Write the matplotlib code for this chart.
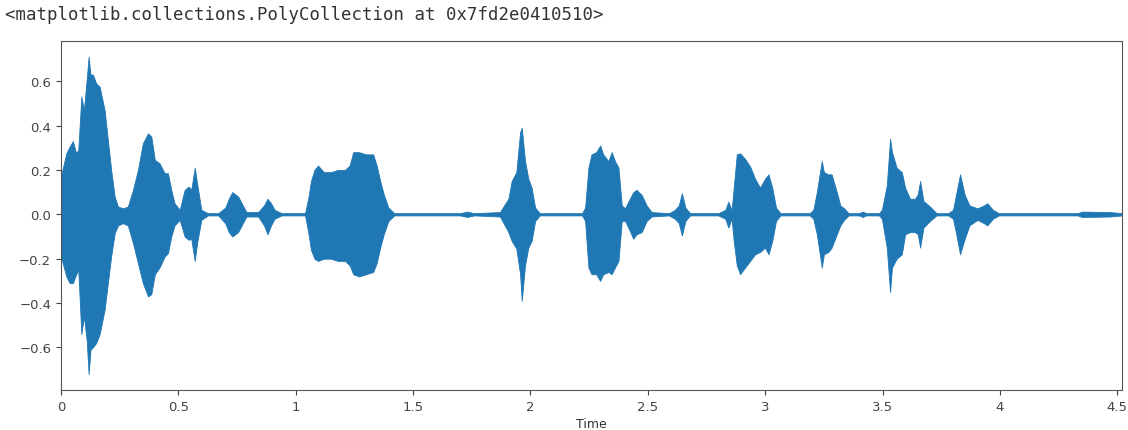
import matplotlib
matplotlib.use('Agg')
import matplotlib.pyplot as plt

# envelope of the waveform: time (s), top and bottom
times = [0.000, 0.023, 0.037, 0.051, 0.065, 0.074, 0.087, 0.098, 0.110, 0.118,
         0.126, 0.136, 0.150, 0.165, 0.186, 0.200, 0.214, 0.229, 0.243, 0.264,
         0.285, 0.307, 0.328, 0.349, 0.371, 0.385, 0.400, 0.420, 0.442, 0.456,
         0.470, 0.484, 0.506, 0.527, 0.544, 0.555, 0.570, 0.580, 0.598, 0.626,
         0.670, 0.700, 0.715, 0.730, 0.755, 0.770, 0.790, 0.840, 0.865, 0.880,
         0.895, 0.910, 0.940,
         1.040, 1.055, 1.065, 1.080, 1.095, 1.120, 1.150, 1.180, 1.210, 1.230,
         1.245, 1.270, 1.300, 1.330, 1.345, 1.360, 1.375, 1.395, 1.420,
         1.700, 1.730, 1.760,
         1.870, 1.906, 1.920, 1.940, 1.956, 1.963, 1.977, 1.991, 2.005, 2.020,
         2.040,
         2.220, 2.233, 2.247, 2.260, 2.280, 2.297, 2.310, 2.332, 2.346, 2.360,
         2.375, 2.389, 2.403, 2.417, 2.438, 2.452, 2.474, 2.495, 2.516,
         2.590, 2.615, 2.632, 2.645, 2.660, 2.680,
         2.800, 2.830, 2.843, 2.857, 2.866, 2.879, 2.893, 2.914, 2.936, 2.957,
         2.978, 2.999, 3.014, 3.030, 3.046, 3.065,
         3.190, 3.205, 3.220, 3.241, 3.250, 3.269, 3.283, 3.305, 3.320, 3.336,
         3.355, 3.400, 3.415, 3.430,
         3.485, 3.497, 3.518, 3.532, 3.540, 3.560, 3.582, 3.596, 3.617, 3.638,
         3.650, 3.660, 3.674, 3.702, 3.730,
         3.780, 3.800, 3.814, 3.830, 3.850, 3.870, 3.904, 3.932, 3.946, 3.970,
         3.995,
         4.330, 4.350, 4.470, 4.520]
upper = [0.17, 0.275, 0.305, 0.33, 0.275, 0.29, 0.53, 0.47, 0.61, 0.71,
         0.63, 0.63, 0.59, 0.575, 0.47, 0.335, 0.20, 0.08, 0.035, 0.027,
         0.035, 0.11, 0.20, 0.32, 0.365, 0.35, 0.245, 0.23, 0.185, 0.185,
         0.11, 0.05, 0.02, 0.11, 0.125, 0.11, 0.21, 0.14, 0.02, 0.005,
         0.005, 0.03, 0.07, 0.10, 0.08, 0.05, 0.01, 0.01, 0.04, 0.07,
         0.05, 0.02, 0.005,
         0.005, 0.08, 0.15, 0.20, 0.22, 0.19, 0.19, 0.20, 0.20, 0.22,
         0.28, 0.28, 0.27, 0.27, 0.22, 0.15, 0.09, 0.03, 0.005,
         0.005, 0.012, 0.005,
         0.01, 0.07, 0.15, 0.19, 0.37, 0.39, 0.24, 0.16, 0.12, 0.03,
         0.005,
         0.005, 0.03, 0.21, 0.27, 0.28, 0.31, 0.27, 0.24, 0.28, 0.24,
         0.21, 0.04, 0.027, 0.057, 0.10, 0.11, 0.087, 0.04, 0.01,
         0.005, 0.02, 0.04, 0.095, 0.03, 0.005,
         0.005, 0.02, 0.057, 0.02, 0.12, 0.27, 0.275, 0.25, 0.215, 0.16,
         0.12, 0.16, 0.18, 0.12, 0.03, 0.005,
         0.005, 0.02, 0.10, 0.24, 0.19, 0.18, 0.18, 0.10, 0.04, 0.027,
         0.005, 0.005, 0.012, 0.005,
         0.005, 0.02, 0.13, 0.34, 0.28, 0.21, 0.19, 0.12, 0.07, 0.07,
         0.09, 0.15, 0.06, 0.035, 0.005,
         0.005, 0.02, 0.095, 0.18, 0.087, 0.04, 0.027, 0.04, 0.05, 0.02,
         0.005,
         0.005, 0.012, 0.01, 0.005]
lower = [-0.19, -0.28, -0.31, -0.31, -0.27, -0.25, -0.54, -0.46, -0.57, -0.72,
         -0.61, -0.60, -0.58, -0.54, -0.43, -0.31, -0.19, -0.085, -0.05, -0.04,
         -0.05, -0.13, -0.22, -0.31, -0.37, -0.36, -0.27, -0.24, -0.19, -0.175,
         -0.10, -0.05, -0.025, -0.10, -0.115, -0.11, -0.21, -0.13, -0.025, -0.005,
         -0.005, -0.04, -0.08, -0.10, -0.08, -0.05, -0.01, -0.01, -0.05, -0.09,
         -0.05, -0.02, -0.005,
         -0.005, -0.09, -0.16, -0.20, -0.21, -0.20, -0.20, -0.21, -0.21, -0.23,
         -0.27, -0.28, -0.27, -0.26, -0.22, -0.15, -0.09, -0.03, -0.005,
         -0.005, -0.012, -0.005,
         -0.01, -0.08, -0.12, -0.155, -0.27, -0.39, -0.23, -0.15, -0.12, -0.03,
         -0.005,
         -0.005, -0.03, -0.24, -0.27, -0.27, -0.30, -0.27, -0.26, -0.27, -0.24,
         -0.21, -0.03, -0.03, -0.06, -0.11, -0.09, -0.08, -0.03, -0.01,
         -0.005, -0.02, -0.04, -0.095, -0.03, -0.005,
         -0.005, -0.02, -0.06, -0.02, -0.12, -0.23, -0.27, -0.24, -0.21, -0.18,
         -0.17, -0.15, -0.18, -0.12, -0.03, -0.005,
         -0.005, -0.02, -0.09, -0.24, -0.18, -0.17, -0.15, -0.09, -0.05, -0.025,
         -0.005, -0.005, -0.012, -0.005,
         -0.005, -0.02, -0.15, -0.35, -0.24, -0.20, -0.18, -0.09, -0.08, -0.08,
         -0.09, -0.15, -0.06, -0.03, -0.005,
         -0.005, -0.02, -0.09, -0.18, -0.11, -0.05, -0.025, -0.04, -0.05, -0.02,
         -0.005,
         -0.005, -0.012, -0.01, -0.005]

xticks = [0, 0.5, 1, 1.5, 2, 2.5, 3, 3.5, 4, 4.5]
xtick_labels = ['0', '0.5', '1', '1.5', '2', '2.5', '3', '3.5', '4', '4.5']
repr_text = '<matplotlib.collections.PolyCollection at 0x7fd2e0410510>'


def main():
    fig = plt.figure(figsize=(11.28, 4.31), dpi=100)
    ax = fig.add_axes([0.054, 0.093, 0.9407, 0.8098])

    ax.fill_between(times, lower, upper, color='#1f77b4', linewidth=0.6,
                    edgecolor='#1f77b4')
    ax.set_xlim(times[0], times[-1])
    ax.set_xticks(xticks)
    ax.set_xticklabels(xtick_labels)
    ax.set_xlabel('Time', fontsize=9, color='#333333', labelpad=3)
    ax.tick_params(labelsize=9.5, colors='#444444')
    for side in ax.spines.values():
        side.set_color('#555555')

    fig.text(0.004, 1 - 15 / 431, repr_text, family='DejaVu Sans Mono',
             fontsize=12.5, color='#333333', va='center', ha='left')

    fig.savefig('out.png', dpi=100)


if __name__ == '__main__':
    main()
